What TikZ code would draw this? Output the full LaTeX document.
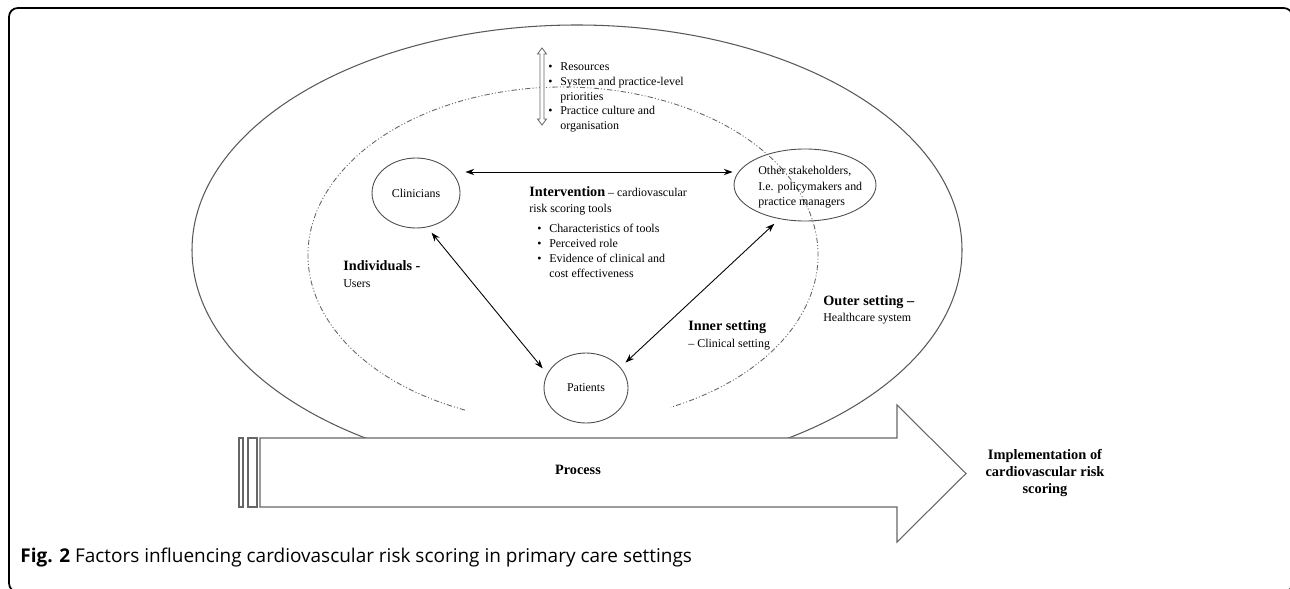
\documentclass[tikz,border=0pt]{standalone}
\usepackage{fontspec}
\setmainfont{Liberation Serif}
\newfontfamily\capfont{Open Sans}
\usetikzlibrary{arrows.meta, positioning, calc, shapes.geometric}
\tikzset{
    ring/.style={draw=black!65, line width=0.6pt},
    innerring/.style={draw=black!60, line width=0.5pt,
        dash pattern=on 3pt off 1.2pt on 0.6pt off 1.2pt on 0.6pt off 1.2pt},
    arrowbox/.style={draw=black!60, line width=0.6pt, fill=white},
    actor/.style={ellipse, draw=black!70, line width=0.5pt, inner sep=0pt,
        font=\fontsize{6.8}{8.5}\selectfont},
    link/.style={{Stealth[length=5pt,width=3.6pt]}-{Stealth[length=5pt,width=3.6pt]}, line width=0.5pt},
    gap/.style={shorten <=4pt, shorten >=4pt},
    txt/.style={inner sep=0pt, anchor=north west, align=left,
        font=\fontsize{6.8}{8.5}\selectfont}
}
\newcommand{\bul}{\makebox[6.8pt][l]{\textbullet}}
\newcommand{\nobul}{\hspace*{6.8pt}}
\newcommand{\hd}[1]{{\fontsize{8.1}{9}\selectfont\bfseries #1}}

\begin{document}
\begin{tikzpicture}[x=0.02cm, y=-0.02cm]
    \path[use as bounding box] (0,0) rectangle (1290,588);
    \clip (0,0) rectangle (1290,588);
    % figure frame
    \draw[line width=1pt, rounded corners=5pt] (9,8) rectangle (1292.5,592);
    % outer and inner setting
    \draw[ring] (577,250) ellipse [x radius=385, y radius=225];
    \draw[innerring] (563,255) ++(112.6:255 and 168)
        arc[start angle=112.6, end angle=425, x radius=255, y radius=168];
    % process arrow
    \draw[arrowbox] (260,438) -- (897,438) -- (897,405) -- (966,473.5)
        -- (897,542) -- (897,507) -- (260,507) -- cycle;
    \draw[arrowbox] (239,438) rectangle (243,507);
    \draw[arrowbox] (248,438) rectangle (257,507);
    % resources double arrow
    \draw[draw=black!60, line width=0.5pt, fill=white] (540,54) -- (537.5,54) -- (542,48) -- (546.5,54)
        -- (544,54) -- (544,119) -- (546.5,119) -- (542,125) -- (537.5,119) -- (540,119) -- cycle;
    % actors
    \node[actor, minimum width=1.76cm, minimum height=1.40cm] (clin) at (416,193) {Clinicians};
    \node[actor, minimum width=2.84cm, minimum height=1.44cm] (stake) at (805,185) {};
    \node[txt, font=\fontsize{6.8}{8.8}\selectfont] (staketxt) at (758,166)
        {Other stakeholders,\\I.e. policymakers and\\practice managers};
    \node[actor, minimum width=1.68cm, minimum height=1.40cm] (pat) at (586,388) {Patients};
    % links
    \draw[link] ($(clin.east)+(5,-21)$) -- ($(stake.west)+(-1,-13)$);
    \draw[link, gap] (clin.-72) -- (pat.160);
    \draw[link, gap] (stake.-127) -- (pat.31);
    % texts
    \node[txt] (resources) at (548,62)
        {\bul Resources\\\bul System and practice-level\\\nobul priorities\\\bul Practice culture and\\\nobul organisation};
    \node[txt, font=\fontsize{6.8}{9}\selectfont] (interv) at (529,186)
        {\hd{Intervention} -- cardiovascular\\risk scoring tools};
    \node[txt] (charac) at (537,224)
        {\bul Characteristics of tools\\\bul Perceived role\\\bul Evidence of clinical and\\\nobul cost effectiveness};
    \node[txt, font=\fontsize{6.8}{9.6}\selectfont] (indiv) at (343,260) {\hd{Individuals -}\\Users};
    \node[txt, font=\fontsize{6.8}{10}\selectfont] (inner) at (688,320) {\hd{Inner setting}\\-- Clinical setting};
    \node[txt, font=\fontsize{6.8}{9}\selectfont] (outer) at (823,295) {\hd{Outer setting --}\\Healthcare system};
    \node[inner sep=0pt, font=\fontsize{8.1}{9.4}\selectfont\bfseries] (process) at (578,470) {Process};
    \node[inner sep=0pt, align=center, font=\fontsize{8.2}{9.4}\selectfont\bfseries] (impl) at (1045,473)
        {Implementation of\\cardiovascular risk\\scoring};
    % caption
    \node[anchor=base west, inner sep=0pt, font=\capfont\fontsize{10.8}{12}\selectfont] (caption) at (20,562)
        {\textbf{Fig. 2} Factors influencing cardiovascular risk scoring in primary care settings};
\end{tikzpicture}
\end{document}
